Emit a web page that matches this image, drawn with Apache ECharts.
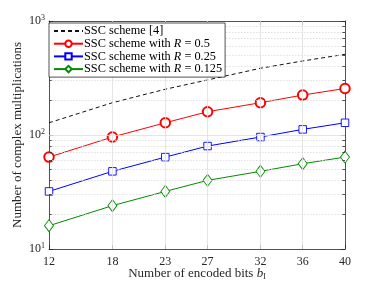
<!DOCTYPE html>
<html>
<head>
<meta charset="utf-8">
<script src="https://cdn.jsdelivr.net/npm/echarts@6/dist/echarts.min.js"></script>
<style>html,body{margin:0;padding:0;background:#fff;}#c{width:381px;height:286px;}</style>
</head>
<body>
<div id="c"></div>
<script>
const bits = [12, 18, 23, 27, 32, 36, 40];
const sscRef = [128, 192, 252, 304, 385, 446, 510];
const sscR05 = [64, 96, 128, 160, 192, 224, 256];
const sscR025 = [32, 48, 64, 80, 96, 112, 128];
const sscR0125 = [16, 24, 32, 40, 48, 56, 64];
const yMinorTicks = [20, 30, 40, 50, 60, 70, 80, 90, 200, 300, 400, 500, 600, 700, 800, 900];
const yMajorTicks = [100];

const FONT = 'Liberation Serif';
const pair = (ys) => bits.map((b, i) => [b, ys[i]]);
const supRich = {
  b: {fontFamily: FONT, fontSize: 12, color: '#262626'},
  s: {fontFamily: FONT, fontSize: 8, color: '#262626', verticalAlign: 'top', padding: [0, 0, 7, 0]}
};
const legRich = {
  a: {fontFamily: FONT, fontSize: 12.3, color: '#000', lineHeight: 12.7},
  i: {fontFamily: FONT, fontSize: 12.3, fontStyle: 'italic', color: '#000', lineHeight: 12.7}
};
const minorTickLines = [];
yMinorTicks.forEach(v => {
  minorTickLines.push([{coord: [12, v]}, {coord: [12.25, v]}]);
  minorTickLines.push([{coord: [40, v]}, {coord: [39.75, v]}]);
});
const LEG = ['SSC scheme [4]', 'SSC scheme with R = 0.5', 'SSC scheme with R = 0.25', 'SSC scheme with R = 0.125'];

const chart = echarts.init(document.getElementById('c'), null, {renderer: 'canvas'});
chart.setOption({
  animation: false,
  backgroundColor: '#fff',
  grid: {left: 49, right: 36, top: 21, bottom: 37, containLabel: false, outerBoundsMode: 'none'},
  legend: {
    orient: 'vertical', left: 49, top: 23, z: 10,
    backgroundColor: '#fff', borderColor: '#262626', borderWidth: 0.8,
    padding: [2, 3, 2, 4], itemGap: 0.7, itemWidth: 29, itemHeight: 8,
    textStyle: {fontFamily: FONT, fontSize: 12.3, color: '#000', rich: legRich, padding: [0, 0, 0, -4]},
    formatter: function (name) {
      if (name.indexOf('R =') < 0) return '{a|' + name + '}';
      const parts = name.split('R');
      return '{a|' + parts[0] + '}{i|R}{a|' + parts[1] + '}';
    },
    data: [{name: LEG[0], itemStyle: {opacity: 0}}, LEG[1], LEG[2], LEG[3]]
  },
  xAxis: [{
    type: 'value', min: 12, max: 40, position: 'bottom',
    name: '{t|Number of encoded bits }{i|b}{u|I}',
    nameLocation: 'middle', nameGap: 18, nameMoveOverlap: false,
    nameTextStyle: {rich: {
      t: {fontFamily: FONT, fontSize: 13, color: '#262626'},
      i: {fontFamily: FONT, fontSize: 13, fontStyle: 'italic', color: '#262626'},
      u: {fontFamily: FONT, fontSize: 8, color: '#262626', verticalAlign: 'bottom', padding: [6, 0, 0, 0]}
    }},
    axisLine: {show: true, lineStyle: {color: '#262626', width: 0.8}},
    axisTick: {show: true, inside: true, length: 4, customValues: bits, lineStyle: {color: '#262626', width: 0.8}},
    axisLabel: {customValues: bits, fontFamily: FONT, fontSize: 12, color: '#262626', margin: 7},
    splitLine: {show: false}
  }, {
    type: 'value', min: 12, max: 40, position: 'top',
    axisLine: {show: true, onZero: false, lineStyle: {color: '#262626', width: 0.8}},
    axisTick: {show: true, inside: true, length: 4, customValues: bits, lineStyle: {color: '#262626', width: 0.8}},
    axisLabel: {show: false},
    splitLine: {show: false}
  }],
  yAxis: [{
    type: 'log', logBase: 10, min: 10, max: 1000, position: 'left',
    name: 'Number of complex multiplications', nameLocation: 'middle', nameGap: 25, nameMoveOverlap: false,
    nameTextStyle: {fontFamily: FONT, fontSize: 13, color: '#262626'},
    axisLine: {show: true, lineStyle: {color: '#262626', width: 0.8}},
    axisTick: {show: true, inside: true, length: 4, lineStyle: {color: '#262626', width: 0.8}},
    axisLabel: {
      margin: 4, rich: supRich,
      formatter: v => '{b|10}{s|' + Math.round(Math.log10(v)) + '}'
    },
    splitLine: {show: false}
  }, {
    type: 'log', logBase: 10, min: 10, max: 1000, position: 'right',
    axisLine: {show: true, onZero: false, lineStyle: {color: '#262626', width: 0.8}},
    axisTick: {show: true, inside: true, length: 4, lineStyle: {color: '#262626', width: 0.8}},
    axisLabel: {show: false},
    splitLine: {show: false}
  }],
  series: [{
    name: 'grid-minor', type: 'line', data: [], silent: true, z: 0,
    markLine: {
      silent: true, symbol: 'none', label: {show: false},
      lineStyle: {color: '#d9d9d9', width: 0.8, type: [1.5, 1.5]},
      data: yMinorTicks.map(v => ({yAxis: v}))
    }
  }, {
    name: 'grid-major', type: 'line', data: [], silent: true, z: 0,
    markLine: {
      silent: true, symbol: 'none', label: {show: false},
      lineStyle: {color: '#dedede', width: 0.8, type: 'solid'},
      data: yMajorTicks.map(v => ({yAxis: v})).concat(bits.slice(1, -1).map(b => ({xAxis: b})))
    }
  }, {
    name: 'tick-minor', type: 'line', data: [], silent: true,
    markLine: {
      silent: true, symbol: 'none', label: {show: false},
      lineStyle: {color: '#262626', width: 0.8, type: 'solid'},
      data: minorTickLines
    }
  }, {
    name: LEG[0], type: 'line', data: pair(sscRef), symbol: 'none',
    lineStyle: {color: '#111', width: 1, type: [4, 3]}, itemStyle: {color: '#000'}
  }, {
    name: LEG[1], type: 'line', data: pair(sscR05),
    symbol: 'emptyCircle', symbolSize: 9.5,
    lineStyle: {color: '#ff0000', width: 1}, itemStyle: {color: '#ff0000', borderWidth: 0.9}
  }, {
    name: LEG[2], type: 'line', data: pair(sscR025),
    symbol: 'rect', symbolSize: 7.5,
    lineStyle: {color: '#0000ff', width: 1}, itemStyle: {color: '#fff', borderColor: '#0000ff', borderWidth: 0.9}
  }, {
    name: LEG[3], type: 'line', data: pair(sscR0125),
    symbol: 'diamond', symbolSize: [9, 12],
    lineStyle: {color: '#008c00', width: 1}, itemStyle: {color: '#fff', borderColor: '#008c00', borderWidth: 0.9}
  }]
});
</script>
</body>
</html>
